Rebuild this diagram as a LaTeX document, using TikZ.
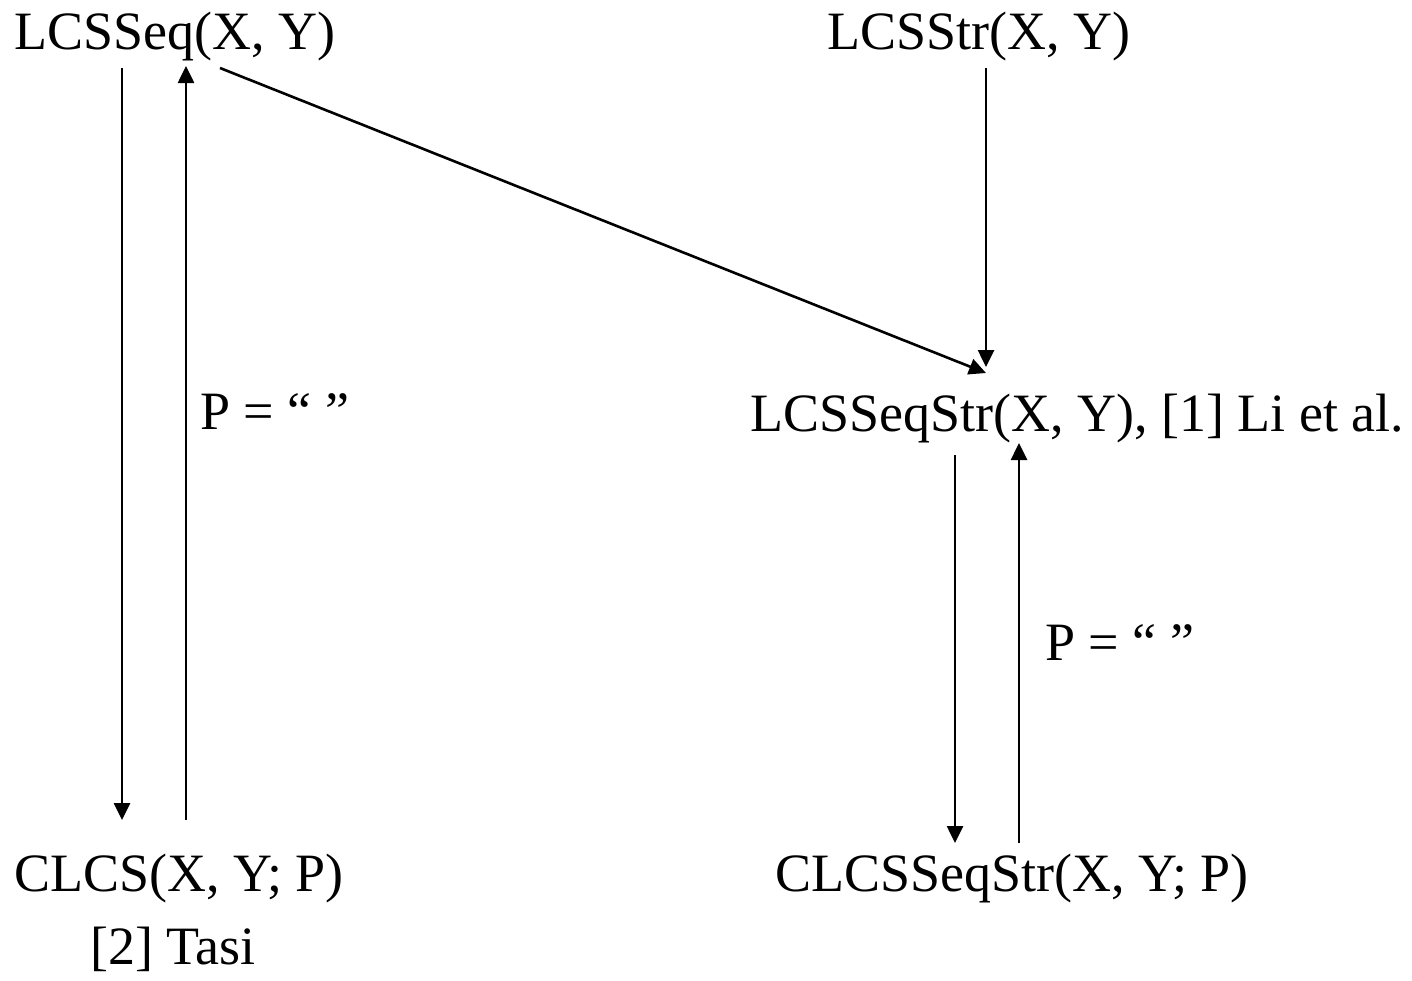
\documentclass[tikz,border=0pt]{standalone}
\usepackage{fontspec}
\setmainfont{Liberation Serif}
\usetikzlibrary{arrows.meta}
\begin{document}
\begin{tikzpicture}[x=1pt,y=-1pt,
  lbl/.style={anchor=base west,inner sep=0pt,font=\fontsize{54}{60}\selectfont},
  arr/.style={line width=2.6pt,-{Triangle[length=17pt,width=16pt]}}]
\useasboundingbox (0,0) rectangle (1412,980);
\node[lbl] (seq) at (14,49) {LCSSeq(X, Y)};
\node[lbl] (str) at (827,49) {LCSStr(X, Y)};
\node[lbl] (seqstr) at (750,431) {LCSSeqStr(X, Y), [1] Li et al.};
\node[lbl] (p1) at (200,429) {P = “ ”};
\node[lbl] (p2) at (1045,660) {P = “ ”};
\node[lbl] (clcs) at (14,891) {CLCS(X, Y; P)};
\node[lbl] (tasi) at (90,964) {[2] Tasi};
\node[lbl] (clss) at (775,891) {CLCSSeqStr(X, Y; P)};
\coordinate (a1s) at (122,68);  \coordinate (a1e) at (122,820);
\coordinate (a2s) at (186,820); \coordinate (a2e) at (186,66);
\coordinate (a3s) at (220,68);  \coordinate (a3e) at (986,373);
\coordinate (a4s) at (986,68);  \coordinate (a4e) at (986,367);
\coordinate (a5s) at (955,455); \coordinate (a5e) at (955,843);
\coordinate (a6s) at (1019,843); \coordinate (a6e) at (1019,443);
\draw[arr] (a1s) -- (a1e);
\draw[arr] (a2s) -- (a2e);
\draw[arr] (a3s) -- (a3e);
\draw[arr] (a4s) -- (a4e);
\draw[arr] (a5s) -- (a5e);
\draw[arr] (a6s) -- (a6e);
\end{tikzpicture}
\end{document}
